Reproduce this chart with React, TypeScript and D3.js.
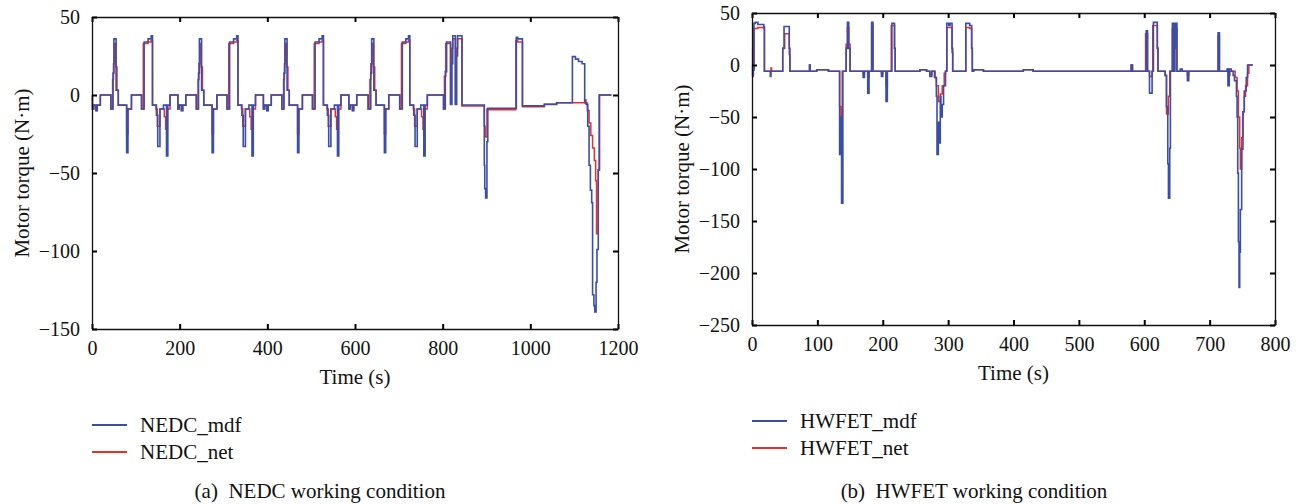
import React, { useRef, useEffect } from 'react';
import * as d3 from 'd3';

type Pt = [number, number];

// axis ticks
const NEDC_X_TICKS = [0, 200, 400, 600, 800, 1000, 1200];
const NEDC_Y_TICKS = [-150, -100, -50, 0, 50];
const HWFET_X_TICKS = [0, 100, 200, 300, 400, 500, 600, 700, 800];
const HWFET_Y_TICKS = [-250, -200, -150, -100, -50, 0, 50];

// NEDC motor torque, [time s, torque N·m], step breakpoints
const NEDC_MDF: Pt[] = [
  [0, 0], [1, -9], [4, -6.5], [9, -10], [12, -6.5], [19, 0], [43, -9], [48, 14], [50, 36], [55, 3], [60, -6.5],
  [79, -37], [82, -9], [90, 0], [113, -9], [119, 34], [128, 36], [135, 38], [138, -6.5], [147, -13], [150, -33],
  [155, -9], [163, -6.5], [170, -39], [173, -6.5], [178, 0],
  [196, -9], [199, -6.5], [204, -10], [207, -6.5], [214, 0], [238, -9], [243, 14], [245, 36], [250, 3], [255, -6.5],
  [274, -37], [277, -9], [285, 0], [308, -9], [314, 34], [323, 36], [330, 38], [333, -6.5], [342, -13], [345, -33],
  [350, -9], [358, -6.5], [365, -39], [368, -6.5], [373, 0],
  [391, -9], [394, -6.5], [399, -10], [402, -6.5], [409, 0], [433, -9], [438, 14], [440, 36], [445, 3], [450, -6.5],
  [469, -37], [472, -9], [480, 0], [503, -9], [509, 34], [518, 36], [525, 38], [528, -6.5], [537, -13], [540, -33],
  [545, -9], [553, -6.5], [560, -39], [563, -6.5], [568, 0],
  [586, -9], [589, -6.5], [594, -10], [597, -6.5], [604, 0], [630, -9], [636, 14], [638, 36], [643, 3], [648, -6.5],
  [667, -37], [670, -9], [677, 0], [702, -9], [708, 34], [716, 36], [722, 38], [725, -6.5], [734, -13], [737, -33],
  [742, -9], [750, -6.5], [757, -39], [760, -6.5], [765, 0],
  [802, -9], [806, 15], [809, 34], [818, -6], [821, 20], [823, 38], [829, -6], [832, 25], [834, 38], [844, -6.4],
  [895, -45], [896, -60], [898, -66], [901, -30], [903, -8.5], [968, 37], [971, 36], [982, -7], [1032, -6],
  [1060, -5], [1096, 24.6], [1103, 23], [1110, 21.5], [1118, 20], [1124, -5], [1129, -6], [1131, -20], [1134, -45],
  [1137, -61], [1140, -69], [1142, -128], [1145, -135], [1147, -139], [1150, -120], [1152, -99], [1155, -48],
  [1157, 0], [1185, 0],
];

const NEDC_NET: Pt[] = [
  [0, 0], [1, -9], [4, -6.5], [9, -10], [12, -6.5], [19, 0], [43, -9], [47, 10], [49, 20], [51, 33], [54, 18], [57, 3],
  [60, -6.5], [79, -25], [82, -9], [90, 0], [113, -9], [117, 33], [128, 34], [135, 35], [138, -6.5], [146, -9],
  [149, -20], [155, -9], [165, -14], [168, -22], [172, -9], [178, 0],
  [196, -9], [199, -6.5], [204, -10], [207, -6.5], [214, 0], [238, -9], [242, 10], [244, 20], [246, 33], [249, 18],
  [252, 3], [255, -6.5], [274, -25], [277, -9], [285, 0], [308, -9], [312, 33], [323, 34], [330, 35], [333, -6.5],
  [341, -9], [344, -20], [350, -9], [360, -14], [363, -22], [367, -9], [373, 0],
  [391, -9], [394, -6.5], [399, -10], [402, -6.5], [409, 0], [433, -9], [437, 10], [439, 20], [441, 33], [444, 18],
  [447, 3], [450, -6.5], [469, -25], [472, -9], [480, 0], [503, -9], [507, 33], [518, 34], [525, 35], [528, -6.5],
  [536, -9], [539, -20], [545, -9], [555, -14], [558, -22], [562, -9], [568, 0],
  [586, -9], [589, -6.5], [594, -10], [597, -6.5], [604, 0], [630, -9], [634, 10], [636, 20], [639, 33], [642, 18],
  [645, 3], [648, -6.5], [667, -25], [670, -9], [677, 0], [702, -9], [706, 33], [716, 34], [722, 35], [725, -6.5],
  [733, -9], [736, -20], [742, -9], [752, -14], [755, -22], [759, -9], [765, 0],
  [802, -9], [804, 12], [807, 33], [818, -6], [820, 30], [823, 36], [829, -6], [831, 30], [834, 36], [844, -7],
  [895, -20], [897, -27], [901, -9], [903, -9.5], [967, 35], [971, 34], [982, -7.5], [1032, -6], [1060, -5],
  [1124, -3], [1127, -6], [1130, -10], [1134, -18], [1138, -26], [1142, -34], [1146, -42], [1149, -55], [1151, -89],
  [1155, -48], [1158, 0], [1185, 0],
];

// HWFET motor torque
const HWFET_MDF: Pt[] = [
  [0, 0], [1, -10], [2, -5], [3, 40], [5, 41], [9, 39], [18, 37], [19, -6], [28, -11], [29, -6], [47, 16], [49, 37],
  [57, 16], [58, -6], [88, 0], [89, -6], [99, -4.5], [117, -6], [134, -86], [136, -50], [137, -133], [139, -6],
  [144, 16], [146, 41], [148, 16], [150, -6], [170, -12], [172, -6], [177, -27], [179, -6], [183, 41], [185, -6],
  [198, -11], [200, -6], [205, -35], [207, -6], [214, 40], [218, 16], [219, -6], [257, -4.5], [267, -6], [272, -11],
  [275, -6], [280, -12], [282, -30], [283, -86], [285, -55], [286, -75], [288, -30], [289, -50], [291, -38],
  [293, -20], [296, -6], [298, 40], [301, 38], [303, 40], [306, 16], [307, -6], [327, 40], [333, 38], [336, 16],
  [337, -6], [339, -4.5], [354, -6], [415, -4.5], [430, -6], [580, 0], [582, -6], [603, 33], [605, -6], [608, -27],
  [612, -6], [614, 41], [620, 16], [621, -6], [632, -10], [634, -40], [636, -95], [637, -128], [639, -80], [640, -6],
  [643, 40], [644, -6], [645, 40], [646, -6], [647, 40], [648, 16], [649, 40], [650, -6], [655, -4], [658, -6],
  [666, -15], [668, -6], [713, 31], [715, -6], [727, -4], [728, -20], [730, -4], [733, -6], [736, -10], [738, -15],
  [741, -30], [742, -50], [743, -104], [744, -170], [745, -214], [746, -180], [747, -139], [749, -81], [751, -45],
  [753, -25], [756, -12], [758, 0], [766, 0],
];

const HWFET_NET: Pt[] = [
  [0, 15], [1, -11], [2, -5], [3, 35], [9, 36], [18, 35], [19, -6], [29, -3], [30, -6], [47, 16], [50, 30], [57, 10],
  [58, -6], [88, 0], [89, -6], [99, -4.5], [117, -6], [134, -40], [136, -67], [138, -6], [144, 20], [146, 36],
  [148, 20], [150, -6], [170, -8], [172, -6], [177, -12], [179, -6], [183, 38], [185, -6], [198, -8], [200, -6],
  [205, -20], [207, -6], [213, 38], [218, 16], [219, -6], [257, -4.5], [267, -6], [272, -9], [275, -6], [279, -12],
  [282, -20], [285, -35], [288, -28], [291, -20], [294, -8], [296, -6], [298, 36], [306, 12], [307, -6], [327, 36],
  [333, 35], [336, 16], [337, -6], [339, -4.5], [354, -6], [415, -4.5], [430, -6], [580, 0], [582, -6], [602, 30],
  [605, -6], [608, -11], [612, -6], [613, 38], [620, 16], [621, -6], [632, -10], [634, -47], [637, -30], [639, -6],
  [643, 35], [650, -6], [666, -10], [668, -6], [713, 28], [715, -6], [727, -4], [729, -10], [731, -6], [735, -6],
  [739, -12], [742, -25], [744, -50], [746, -80], [747, -100], [749, -70], [751, -45], [753, -30], [755, -20],
  [758, -8], [760, 0], [766, 0],
];

const BLUE = '#3b4ea7';
const RED = '#ea2f2a';
const FONT = '"Liberation Serif", "Times New Roman", serif';

type PanelOpts = {
  left: number;
  top: number;
  width: number;
  height: number;
  xDomain: [number, number];
  yDomain: [number, number];
  xTicks: number[];
  yTicks: number[];
  mdf: Pt[];
  net: Pt[];
  names: [string, string];
  caption: string;
  captionX: number;
};

function drawPanel(root: d3.Selection<SVGGElement, unknown, null, undefined>, o: PanelOpts) {
  const g = root.append('g').attr('transform', `translate(${o.left},${o.top})`);
  const x = d3.scaleLinear().domain(o.xDomain).range([0, o.width]);
  const y = d3.scaleLinear().domain(o.yDomain).range([o.height, 0]);
  const fmt = d3.format('d');

  const line = d3
    .line<Pt>()
    .x((d) => x(d[0]))
    .y((d) => y(d[1]))
    .curve(d3.curveStepAfter);

  g.append('path').datum(o.net).attr('fill', 'none').attr('stroke', RED).attr('stroke-width', 1.5).attr('d', line);
  g.append('path').datum(o.mdf).attr('fill', 'none').attr('stroke', BLUE).attr('stroke-width', 1.6).attr('d', line);

  const style = (a: d3.Selection<SVGGElement, unknown, null, undefined>) => {
    a.select('.domain').attr('stroke', '#111').attr('stroke-width', 1.3);
    a.selectAll('.tick line').attr('stroke', '#000').attr('stroke-width', 2);
    a.selectAll('.tick text').attr('font-family', FONT).attr('font-size', 20).attr('fill', '#111');
  };

  const bottom = g
    .append('g')
    .attr('transform', `translate(0,${o.height})`)
    .call(d3.axisBottom(x).tickValues(o.xTicks).tickFormat(fmt).tickSizeInner(-5).tickSizeOuter(0).tickPadding(12));
  style(bottom);
  const top = g
    .append('g')
    .call(d3.axisTop(x).tickValues(o.xTicks).tickSizeInner(-5).tickSizeOuter(0).tickFormat(() => ''));
  style(top);
  const leftAx = g
    .append('g')
    .call(d3.axisLeft(y).tickValues(o.yTicks).tickFormat(fmt).tickSizeInner(-5).tickSizeOuter(0).tickPadding(12));
  style(leftAx);
  const rightAx = g
    .append('g')
    .attr('transform', `translate(${o.width},0)`)
    .call(d3.axisRight(y).tickValues(o.yTicks).tickSizeInner(-5).tickSizeOuter(0).tickFormat(() => ''));
  style(rightAx);

  g.append('text')
    .attr('x', o.width / 2)
    .attr('y', o.height + 48)
    .attr('dy', '0.35em')
    .attr('text-anchor', 'middle')
    .attr('font-family', FONT)
    .attr('font-size', 21)
    .attr('fill', '#111')
    .text('Time (s)');

  g.append('text')
    .attr('transform', 'rotate(-90)')
    .attr('x', -o.height / 2)
    .attr('y', -70)
    .attr('dy', '0.35em')
    .attr('text-anchor', 'middle')
    .attr('font-family', FONT)
    .attr('font-size', 21)
    .attr('fill', '#111')
    .text('Motor torque (N·m)');

  // legend
  const leg = g.append('g').attr('transform', `translate(0,${o.height + 96})`);
  [
    { name: o.names[0], color: BLUE },
    { name: o.names[1], color: RED },
  ].forEach((item, i) => {
    const row = leg.append('g').attr('transform', `translate(0,${i * 27})`);
    row.append('line').attr('x1', 0).attr('x2', 35).attr('stroke', item.color).attr('stroke-width', 2);
    row
      .append('text')
      .attr('x', 48)
      .attr('dy', '0.35em')
      .attr('font-family', FONT)
      .attr('font-size', 21)
      .attr('fill', '#111')
      .text(item.name);
  });

  root
    .append('text')
    .attr('x', o.captionX)
    .attr('y', 491)
    .attr('dy', '0.35em')
    .attr('text-anchor', 'middle')
    .attr('font-family', FONT)
    .attr('font-size', 21)
    .attr('fill', '#111')
    .text(o.caption);
}

const App = () => {
  const gRef = useRef<SVGGElement>(null);

  useEffect(() => {
    const root = d3.select(gRef.current as SVGGElement);
    root.selectAll('*').remove();

    drawPanel(root, {
      left: 92,
      top: 17,
      width: 526,
      height: 312,
      xDomain: [0, 1200],
      yDomain: [-150, 50],
      xTicks: NEDC_X_TICKS,
      yTicks: NEDC_Y_TICKS,
      mdf: NEDC_MDF,
      net: NEDC_NET,
      names: ['NEDC_mdf', 'NEDC_net'],
      caption: '(a)\u2002NEDC working condition',
      captionX: 320,
    });

    drawPanel(root, {
      left: 752,
      top: 13,
      width: 523,
      height: 312,
      xDomain: [0, 800],
      yDomain: [-250, 50],
      xTicks: HWFET_X_TICKS,
      yTicks: HWFET_Y_TICKS,
      mdf: HWFET_MDF,
      net: HWFET_NET,
      names: ['HWFET_mdf', 'HWFET_net'],
      caption: '(b)\u2002HWFET working condition',
      captionX: 974,
    });
  }, []);

  return (
    <svg
      width={1299}
      height={504}
      style={{ position: 'absolute', left: 0, top: 0, background: '#fff' }}
    >
      <g ref={gRef} />
    </svg>
  );
};

export default App;
